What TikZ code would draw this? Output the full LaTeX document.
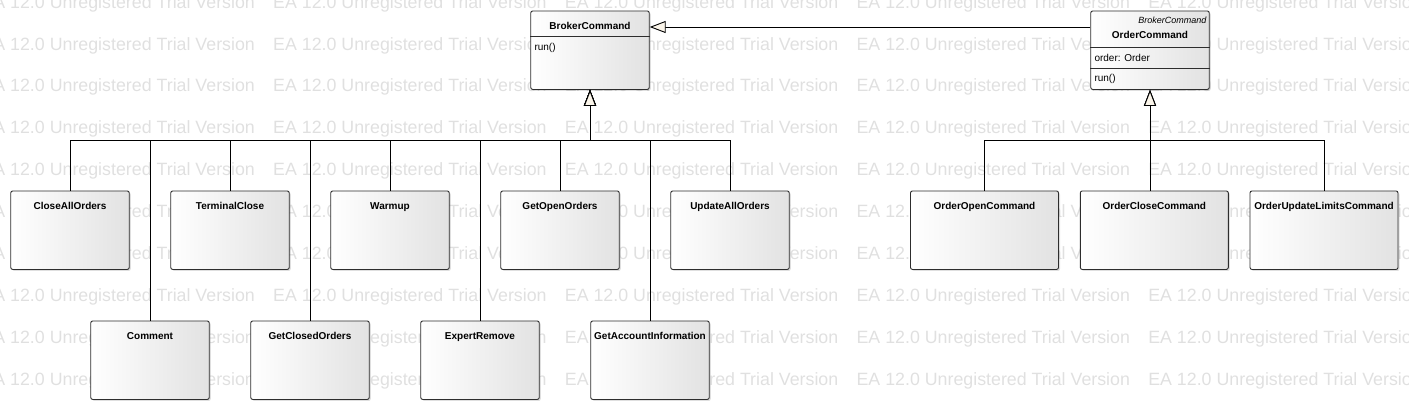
\documentclass[tikz,border=0pt]{standalone}
\usepackage{fontspec}
\setmainfont{Liberation Sans}
\usepackage{tikz}
\usetikzlibrary{arrows.meta,shadows}
\definecolor{wmgray}{RGB}{224, 224, 224}
\definecolor{tricream}{RGB}{251, 245, 234}
\definecolor{boxgray}{RGB}{226, 226, 226}
\definecolor{boxline}{RGB}{45, 45, 45}

\begin{document}
\begin{tikzpicture}[x = 1pt, y = -1pt,
			box/.style = {rectangle, draw = boxline, line width = 0.9pt, rounded corners = 2pt, left color = white, right color = boxgray, drop shadow = {shadow xshift = 1.5pt, shadow yshift = -1.5pt, opacity = 0.25}, anchor = north, minimum width = 118.5pt, inner xsep = 2pt, inner ysep = 0pt, text height = 19pt, text depth = 59.5pt, font = \fontsize{10}{12}\selectfont\bfseries},
			wide/.style = {minimum width = 148pt},
			member/.style = {anchor = west, inner sep = 0pt, font = \fontsize{10}{12}\selectfont},
			gen/.style = {draw, line width = 0.9pt, -{Triangle[length = 16pt, width = 12pt, fill = tricream]}},
			wm/.style = {anchor = base west, inner sep = 0pt, text = wmgray, font = \fontsize{17.8}{20}\selectfont}]
			\useasboundingbox (0,0) rectangle (1409,410);
			\clip (0,0) rectangle (1409,410);
			% watermark
			\foreach \r in {0,...,9}
				\foreach \c in {0,...,4}
					\node (wm-\r-\c) at (-18.7 + 291.7*\c, 8.1 + 41.9*\r) [wm] {EA 12.0 Unregistered Trial Version};
			% classes
			\node (broker) at (590,10.5) [box] {BrokerCommand};
			\node (brokerrun) at ([xshift = 4pt, yshift = -37pt]broker.north west) [member] {run()};
			\draw [boxline, line width = 0.9pt] ([yshift = -26.3pt]broker.north west) -- ([yshift = -26.3pt]broker.north east);
			\node (order) at (1150,10.5) [box, text height = 28pt, text depth = 50.5pt] {OrderCommand};
			\node (orderstereo) at ([xshift = -3pt, yshift = -9.5pt]order.north east) [member, anchor = east, font = \fontsize{9}{11}\selectfont\itshape] {BrokerCommand};
			\node (orderattr) at ([xshift = 4pt, yshift = -47pt]order.north west) [member] {order: Order};
			\node (orderrun) at ([xshift = 4pt, yshift = -68.3pt]order.north west) [member] {run()};
			\draw [boxline, line width = 0.9pt] ([yshift = -36.6pt]order.north west) -- ([yshift = -36.6pt]order.north east);
			\draw [boxline, line width = 0.9pt] ([yshift = -58.3pt]order.north west) -- ([yshift = -58.3pt]order.north east);
			\node (closeall) at (70,190.5) [box] {CloseAllOrders};
			\node (terminal) at (230,190.5) [box] {TerminalClose};
			\node (warmup) at (390,190.5) [box] {Warmup};
			\node (getopen) at (560,190.5) [box] {GetOpenOrders};
			\node (updateall) at (730,190.5) [box] {UpdateAllOrders};
			\node (comment) at (150,320.5) [box] {Comment};
			\node (getclosed) at (310,320.5) [box] {GetClosedOrders};
			\node (expert) at (480,320.5) [box] {ExpertRemove};
			\node (getaccount) at (650,320.5) [box] {GetAccountInformation};
			\node (orderopen) at (984.5,190.5) [box, wide] {OrderOpenCommand};
			\node (orderclose) at (1154.3,190.5) [box, wide] {OrderCloseCommand};
			\node (orderupdate) at (1324,190.5) [box, wide] {OrderUpdateLimitsCommand};
			% generalizations
			\coordinate (bbus) at (590,140);
			\coordinate (obus) at (1150,140);
			\draw [gen] ([yshift = -16.5pt]order.north west) -- ([yshift = -16.5pt]broker.north east);
			\draw [gen] (closeall.north) |- (bbus) -- (broker.south);
			\draw [gen] (comment.north) |- (bbus) -- (broker.south);
			\draw [gen] (terminal.north) |- (bbus) -- (broker.south);
			\draw [gen] (getclosed.north) |- (bbus) -- (broker.south);
			\draw [gen] (warmup.north) |- (bbus) -- (broker.south);
			\draw [gen] (expert.north) |- (bbus) -- (broker.south);
			\draw [gen] (getopen.north) |- (bbus) -- (broker.south);
			\draw [gen] (getaccount.north) |- (bbus) -- (broker.south);
			\draw [gen] (updateall.north) |- (bbus) -- (broker.south);
			\draw [gen] (orderopen.north) |- (obus) -- (order.south);
			\draw [gen] (obus |- orderclose.north) -- (obus) -- (order.south);
			\draw [gen] (orderupdate.north) |- (obus) -- (order.south);
\end{tikzpicture}
\end{document}
